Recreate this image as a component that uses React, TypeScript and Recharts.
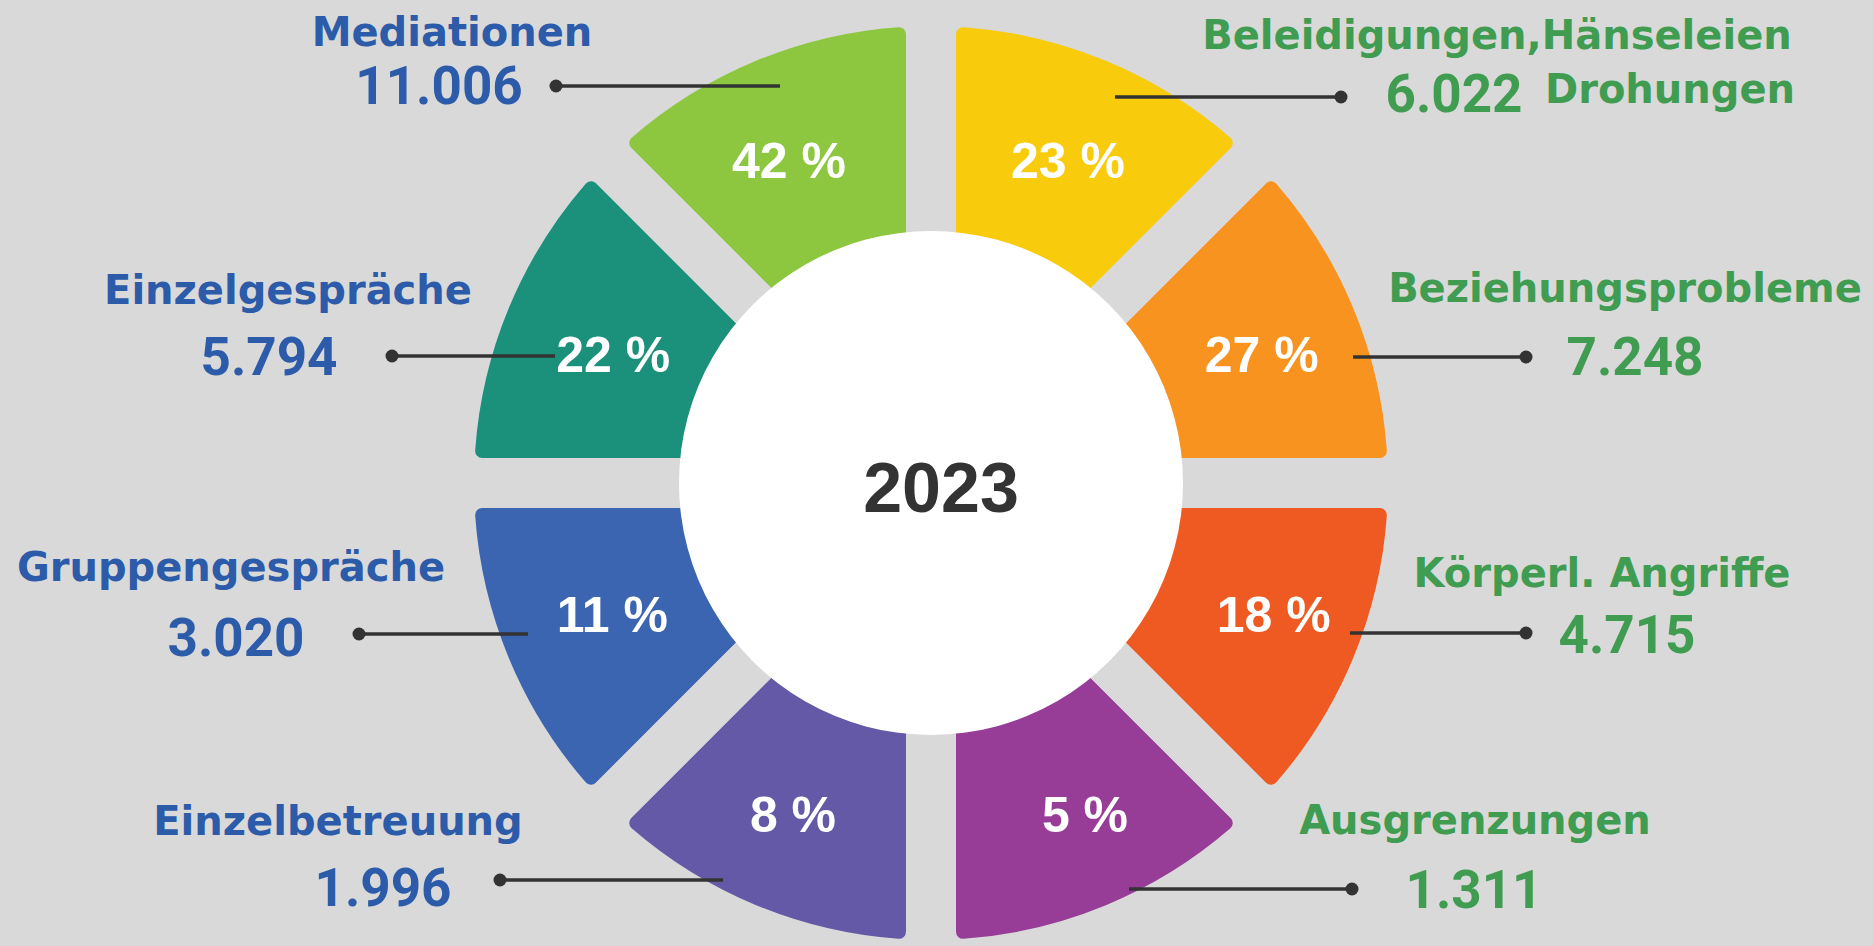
import React from 'react';
import { PieChart, Pie, Cell } from 'recharts';

// ---------- data ----------
const categories = [
  'Mediationen',
  'Einzelgespräche',
  'Gruppengespräche',
  'Einzelbetreuung',
  'Ausgrenzungen',
  'Körperl. Angriffe',
  'Beziehungsprobleme',
  'Beleidigungen,Hänseleien Drohungen',
];
const counts = [11006, 5794, 3020, 1996, 1311, 4715, 7248, 6022];
const percents = [42, 22, 11, 8, 5, 18, 27, 23];
// every slice of the ring is drawn the same size in the picture
const sliceShare = [1, 1, 1, 1, 1, 1, 1, 1];
const centerTitle = ['2023'];

// ---------- styles ----------
const BG = '#d9d9d9';
const BLUE = '#2c5ba9';
const GREEN = '#3f9c50';
const LINE = '#333333';
const sliceColors = ['#8dc63f', '#1b917b', '#3b65b1', '#6359a6', '#973d98', '#ef5a23', '#f7931e', '#f8cb0c'];

const W = 1873;
const H = 946;
const CX = 931;
const CY = 483;
const GAP = 50;
const OUTER = 457 + GAP / 2;
const HOLE = 252;
const PCT_R = 358;

// label layout, offsets relative to the pie centre
const labelLayout = [
  { side: 'left', pctDx: -5, pctDy: 8, lineFrom: -151, dotX: -375, lineY: -397, nameX: -479, nameY: -451, valueX: -492, valueY: -398 },
  { side: 'left', pctDx: 13, pctDy: 8, lineFrom: -376, dotX: -539, lineY: -127, nameX: -643, nameY: -193, valueX: -662, valueY: -127 },
  { side: 'left', pctDx: 12, pctDy: -6, lineFrom: -403, dotX: -572, lineY: 151, nameX: -700, nameY: 84, valueX: -695, valueY: 154 },
  { side: 'left', pctDx: -1, pctDy: 0, lineFrom: -208, dotX: -431, lineY: 397, nameX: -593, nameY: 338, valueX: -548, valueY: 404 },
  { side: 'right', pctDx: 17, pctDy: 0, lineFrom: 198, dotX: 421, lineY: 406, nameX: 544, nameY: 337, valueX: 543, valueY: 406 },
  { side: 'right', pctDx: 12, pctDy: -6, lineFrom: 419, dotX: 595, lineY: 150, nameX: 671, nameY: 90, valueX: 696, valueY: 151 },
  { side: 'right', pctDx: 0, pctDy: 8, lineFrom: 422, dotX: 595, lineY: -126, nameX: 694, nameY: -195, valueX: 704, valueY: -127 },
  { side: 'right', pctDx: 0, pctDy: 8, lineFrom: 184, dotX: 410, lineY: -386, nameX: 566, nameY: -448, valueX: 523, valueY: -390, tailX: 739, tailY: -394 },
];

const fmt = (n: number) => String(n).replace(/\B(?=(\d{3})+(?!\d))/g, '.');

const NAME_FONT = '"DejaVu Sans", sans-serif';
const NUM_FONT = 'Roboto, "Liberation Sans", sans-serif';
const PCT_FONT = '"Liberation Sans", Arial, sans-serif';
const NAME_SIZE = 40;
const NUM_SIZE = 53;
const PCT_SIZE = 50;

const data = categories.map((name, i) => ({
  name,
  share: sliceShare[i],
  count: counts[i],
  pct: percents[i],
}));

const renderLabel = (props: any) => {
  const { cx, cy, midAngle, index } = props;
  const L = labelLayout[index];
  const color = L.side === 'left' ? BLUE : GREEN;
  const RAD = Math.PI / 180;
  const px = cx + PCT_R * Math.cos(-midAngle * RAD) + L.pctDx;
  const py = cy + PCT_R * Math.sin(-midAngle * RAD) + L.pctDy;
  const full = categories[index];
  let head = full;
  let tail = '';
  if (L.tailX !== undefined) {
    const k = full.lastIndexOf(' ');
    head = full.slice(0, k);
    tail = full.slice(k + 1);
  }
  const base = (fs: number) => 0.36 * fs;
  return (
    <g key={`lbl-${index}`}>
      <text
        x={px}
        y={py + base(PCT_SIZE)}
        textAnchor="middle"
        fill="#ffffff"
        fontFamily={PCT_FONT}
        fontWeight={700}
        fontSize={PCT_SIZE}
      >
        {`${percents[index]} %`}
      </text>
      <line
        x1={cx + L.lineFrom}
        y1={cy + L.lineY}
        x2={cx + L.dotX}
        y2={cy + L.lineY}
        stroke={LINE}
        strokeWidth={3.5}
      />
      <circle cx={cx + L.dotX} cy={cy + L.lineY} r={6.5} fill={LINE} />
      <text
        x={cx + L.nameX}
        y={cy + L.nameY + base(NAME_SIZE)}
        textAnchor="middle"
        fill={color}
        fontFamily={NAME_FONT}
        fontWeight={700}
        fontSize={NAME_SIZE}
      >
        {head}
      </text>
      <text
        x={cx + L.valueX}
        y={cy + L.valueY + base(NUM_SIZE)}
        textAnchor="middle"
        fill={color}
        fontFamily={NUM_FONT}
        fontWeight={700}
        fontSize={NUM_SIZE}
      >
        {fmt(counts[index])}
      </text>
      {tail ? (
        <text
          x={cx + (L.tailX as number)}
          y={cy + (L.tailY as number) + base(NAME_SIZE)}
          textAnchor="middle"
          fill={color}
          fontFamily={NAME_FONT}
          fontWeight={700}
          fontSize={NAME_SIZE}
        >
          {tail}
        </text>
      ) : null}
    </g>
  );
};

const renderCenter = (props: any) => {
  const { cx, cy } = props;
  return (
    <text
      key="center"
      x={cx + 10}
      y={cy + 4 + 0.36 * 70}
      textAnchor="middle"
      fill="#333333"
      fontFamily={PCT_FONT}
      fontWeight={700}
      fontSize={70}
    >
      {centerTitle[0]}
    </text>
  );
};

export default function App() {
  return (
    <div style={{ position: 'absolute', left: 0, top: 0, width: W, height: H, background: BG }}>
      <style>{'body{margin:0;background:#d9d9d9;}'}</style>
      <PieChart width={W} height={H} margin={{ top: 0, right: 0, bottom: 0, left: 0 }}>
        <Pie
          data={data}
          dataKey="share"
          nameKey="name"
          cx={CX}
          cy={CY}
          startAngle={90}
          endAngle={450}
          innerRadius={200}
          outerRadius={OUTER}
          cornerRadius={32}
          stroke={BG}
          strokeWidth={GAP}
          label={renderLabel}
          labelLine={false}
          isAnimationActive={false}
        >
          {data.map((d, i) => (
            <Cell key={d.name} fill={sliceColors[i]} stroke={BG} strokeWidth={GAP} />
          ))}
        </Pie>
        <Pie
          data={[{ name: centerTitle[0], v: 1 }]}
          dataKey="v"
          cx={CX}
          cy={CY}
          innerRadius={0}
          outerRadius={HOLE}
          fill="#ffffff"
          stroke="none"
          label={renderCenter}
          labelLine={false}
          isAnimationActive={false}
        />
      </PieChart>
    </div>
  );
}
